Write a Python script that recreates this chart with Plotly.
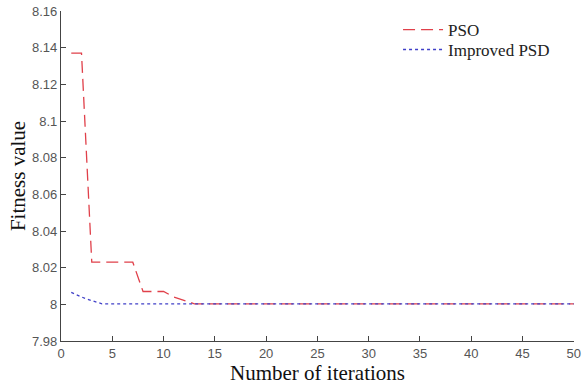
import plotly.graph_objects as go

iterations = list(range(1, 51))
pso = [8.137, 8.137, 8.023, 8.023, 8.023, 8.023, 8.023, 8.007, 8.007, 8.007,
       8.004, 8.002, 8.0003] + [8.0003] * 37
improved = [8.0065, 8.004, 8.002, 8.0003] + [8.0003] * 46

x_ticks = [0, 5, 10, 15, 20, 25, 30, 35, 40, 45, 50]
y_ticks = [7.98, 8.0, 8.02, 8.04, 8.06, 8.08, 8.1, 8.12, 8.14, 8.16]
y_tick_labels = ["7.98", "8", "8.02", "8.04", "8.06", "8.08", "8.1", "8.12", "8.14", "8.16"]

serif = "Liberation Serif, Times New Roman"
fig = go.Figure()
fig.add_trace(go.Scatter(x=iterations, y=pso, mode="lines", name="PSO", legend="legend",
                         line=dict(color="#e0404a", width=1.3, dash="12px,6px")))
fig.add_trace(go.Scatter(x=iterations, y=improved, mode="lines", name="Improved PSD", legend="legend2",
                         line=dict(color="#4040c8", width=1.3, dash="3px,3px")))

axis_common = dict(showline=True, linecolor="#444", linewidth=1.2, ticks="inside",
                   ticklen=5, tickcolor="#444", showgrid=False, zeroline=False,
                   tickfont=dict(family="Liberation Sans, Arial", size=13, color="#555"),
                   ticklabeloverflow="allow", automargin=False, mirror=False)

legend_common = dict(xanchor="left", yanchor="middle", bgcolor="rgba(0,0,0,0)", borderwidth=0,
                     font=dict(family=serif, size=17, color="#222"), itemwidth=40)

fig.update_layout(
    width=582, height=385,
    margin=dict(l=61, r=8, t=11, b=44),
    plot_bgcolor="white", paper_bgcolor="white",
    xaxis=dict(range=[0, 50.02], tickvals=x_ticks,
               title=dict(text="Number of iterations", standoff=2,
                          font=dict(family=serif, size=21, color="#111")),
               **axis_common),
    yaxis=dict(range=[7.98, 8.16], tickvals=y_ticks, ticktext=y_tick_labels,
               title=dict(text="Fitness value", standoff=0,
                          font=dict(family=serif, size=21, color="#111")),
               **axis_common),
    legend=dict(x=0.657, y=0.942, **legend_common),
    legend2=dict(x=0.657, y=0.882, **legend_common),
    showlegend=True,
)

fig.write_html("out.html", config={"displayModeBar": False},
               post_script="document.body.style.margin='0';")
